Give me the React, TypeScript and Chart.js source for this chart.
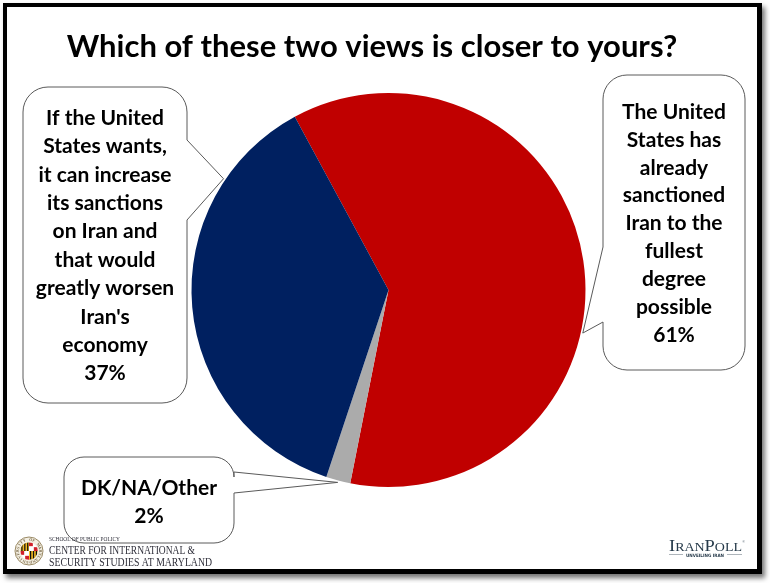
import { useEffect, useRef } from "react";
import { Chart, registerables } from "chart.js";

Chart.register(...registerables);

// ---------- data ----------
const categories = [
  "The United States has already sanctioned Iran to the fullest degree possible",
  "DK/NA/Other",
  "If the United States wants, it can increase its sanctions on Iran and that would greatly worsen Iran's economy",
];
const values = [61, 2, 37];
const sliceColors = ["#C00000", "#ABABAB", "#002060"];
const titleText = "Which of these two views is closer to yours?";
const rightLabelLines = ["The United", "States has", "already", "sanctioned", "Iran to the", "fullest", "degree", "possible"];
const bottomLabelLines = ["DK/NA/Other"];
const leftLabelLines = ["If the United", "States wants,", "it can increase", "its sanctions", "on Iran and", "that would", "greatly worsen", "Iran's", "economy"];
const footerLeftLines = ["SCHOOL OF PUBLIC POLICY", "CENTER FOR INTERNATIONAL &", "SECURITY STUDIES AT MARYLAND"];
const footerRightBrand = ["I", "RAN", "P", "OLL"];
const footerRightTagline = "UNVEILING IRAN";

// ---------- layout ----------
const FONT = "Lato, 'Open Sans', sans-serif";
const bubbles = [
  { idx: 0, lines: rightLabelLines, x: 603, y: 75, w: 142, h: 295, r: 24, side: "left", a: 247, b: 322, angle: 12.5, firstY: 112, lh: 27.9 },
  { idx: 1, lines: bottomLabelLines, x: 64, y: 457, w: 170, h: 86, r: 20, side: "right", a: 472, b: 493, angle: 104.8, firstY: 488, lh: 28 },
  { idx: 2, lines: leftLabelLines, x: 23, y: 87, w: 164, h: 316, r: 25, side: "right", a: 140, b: 220, angle: -146, firstY: 118, lh: 28.4 },
];

function bubblePath(ctx: CanvasRenderingContext2D, bb: any, tx: number, ty: number) {
  const { x, y, w, h, r, side, a, b } = bb;
  ctx.beginPath();
  ctx.moveTo(x + r, y);
  ctx.lineTo(x + w - r, y);
  ctx.arcTo(x + w, y, x + w, y + r, r);
  if (side === "right") {
    ctx.lineTo(x + w, a);
    ctx.lineTo(tx, ty);
    ctx.lineTo(x + w, b);
  }
  ctx.lineTo(x + w, y + h - r);
  ctx.arcTo(x + w, y + h, x + w - r, y + h, r);
  ctx.lineTo(x + r, y + h);
  ctx.arcTo(x, y + h, x, y + h - r, r);
  if (side === "left") {
    ctx.lineTo(x, b);
    ctx.lineTo(tx, ty);
    ctx.lineTo(x, a);
  }
  ctx.lineTo(x, y + r);
  ctx.arcTo(x, y, x + r, y, r);
  ctx.closePath();
}

function fitText(ctx: CanvasRenderingContext2D, text: string, x: number, y: number, width: number, font: string) {
  ctx.font = font;
  const w = ctx.measureText(text).width;
  ctx.save();
  ctx.translate(x, y);
  ctx.scale(width / w, 1);
  ctx.textAlign = "left";
  ctx.fillText(text, 0, 0);
  ctx.restore();
}

const framePlugin = {
  id: "frame",
  beforeDraw(chart: any) {
    const ctx: CanvasRenderingContext2D = chart.ctx;
    ctx.save();
    ctx.shadowColor = "rgba(0,0,0,0.55)";
    ctx.shadowBlur = 5;
    ctx.shadowOffsetX = 3;
    ctx.shadowOffsetY = 4;
    ctx.fillStyle = "#000";
    ctx.fillRect(3, 3, 759, 571);
    ctx.restore();
    ctx.fillStyle = "#fff";
    ctx.fillRect(7, 7, 750, 562);
  },
};

function drawSeal(ctx: CanvasRenderingContext2D, cx: number, cy: number, r: number) {
  ctx.save();
  ctx.beginPath();
  ctx.arc(cx, cy, r, 0, Math.PI * 2);
  ctx.fillStyle = "#f4efe2";
  ctx.fill();
  ctx.strokeStyle = "#9a8a66";
  ctx.lineWidth = 1;
  ctx.stroke();
  // ring text
  ctx.fillStyle = "#7a6a4a";
  ctx.font = "bold 4px 'Liberation Serif', serif";
  ctx.textAlign = "center";
  ctx.textBaseline = "middle";
  const ring = "UNIVERSITY OF MARYLAND";
  const n = ring.length;
  for (let i = 0; i < n; i++) {
    const ang = -Math.PI * 0.95 + (i / (n - 1)) * Math.PI * 1.9 - Math.PI / 2;
    ctx.save();
    ctx.translate(cx + Math.cos(ang) * (r - 2.8), cy + Math.sin(ang) * (r - 2.8));
    ctx.rotate(ang + Math.PI / 2);
    ctx.fillText(ring[i], 0, 0);
    ctx.restore();
  }
  // inner flag
  const ir = r * 0.62;
  ctx.beginPath();
  ctx.arc(cx, cy, ir, 0, Math.PI * 2);
  ctx.clip();
  const quads = [
    [cx - ir, cy - ir, "gold"],
    [cx, cy - ir, "red"],
    [cx - ir, cy, "red"],
    [cx, cy, "gold"],
  ] as const;
  for (const [qx, qy, kind] of quads) {
    if (kind === "gold") {
      ctx.fillStyle = "#F2B922";
      ctx.fillRect(qx, qy, ir, ir);
      ctx.fillStyle = "#111";
      for (let k = 0; k < 3; k++) ctx.fillRect(qx + 1 + k * (ir / 3), qy, ir / 7, ir);
    } else {
      ctx.fillStyle = "#fff";
      ctx.fillRect(qx, qy, ir, ir);
      ctx.fillStyle = "#D0202A";
      ctx.fillRect(qx, qy, ir / 2 - 0.5, ir / 2 - 0.5);
      ctx.fillRect(qx + ir / 2 + 0.5, qy + ir / 2 + 0.5, ir / 2, ir / 2);
    }
  }
  ctx.restore();
}

const overlayPlugin = {
  id: "overlay",
  afterDraw(chart: any) {
    const ctx: CanvasRenderingContext2D = chart.ctx;
    const meta = chart.getDatasetMeta(0);
    const arc: any = meta.data[0];
    const cx = arc.x;
    const cy = arc.y;
    const R = arc.outerRadius;

    // title
    ctx.save();
    ctx.fillStyle = "#000";
    ctx.font = `bold 31px ${FONT}`;
    ctx.textAlign = "center";
    ctx.textBaseline = "alphabetic";
    ctx.fillText(titleText, 372, 57);
    ctx.restore();

    // callout bubbles
    for (const bb of bubbles) {
      const t = (bb.angle * Math.PI) / 180;
      const tx = cx + Math.cos(t) * (R + 2);
      const ty = cy + Math.sin(t) * (R + 2);
      ctx.save();
      bubblePath(ctx, bb, tx, ty);
      ctx.fillStyle = "#fff";
      ctx.fill();
      ctx.strokeStyle = "#5a5a5a";
      ctx.lineWidth = 1;
      ctx.stroke();
      ctx.fillStyle = "#000";
      ctx.font = `bold 21px ${FONT}`;
      ctx.textAlign = "center";
      ctx.textBaseline = "middle";
      const lines = [...bb.lines, `${values[bb.idx]}%`];
      const mx = bb.x + bb.w / 2;
      lines.forEach((ln, i) => ctx.fillText(ln, mx, bb.firstY + i * bb.lh));
      ctx.restore();
    }

    // footer left
    ctx.save();
    drawSeal(ctx, 29, 551, 14);
    ctx.fillStyle = "#2f2f3a";
    ctx.textBaseline = "alphabetic";
    fitText(ctx, footerLeftLines[0], 49, 540.5, 71, "5.5px 'Liberation Serif', serif");
    fitText(ctx, footerLeftLines[1], 49, 554, 146, "13px 'Liberation Serif', serif");
    fitText(ctx, footerLeftLines[2], 49, 565.5, 163, "13px 'Liberation Serif', serif");
    ctx.restore();

    // footer right
    ctx.save();
    ctx.fillStyle = "#263a4a";
    ctx.textBaseline = "alphabetic";
    ctx.textAlign = "left";
    const big = "16.5px 'Liberation Serif', serif";
    const small = "12.5px 'Liberation Serif', serif";
    const fonts = [big, small, big, small];
    let total = 0;
    const widths: number[] = [];
    footerRightBrand.forEach((s, i) => {
      ctx.font = fonts[i];
      const w = ctx.measureText(s).width;
      widths.push(w);
      total += w;
    });
    const sx = 73 / total;
    let px = 669;
    footerRightBrand.forEach((s, i) => {
      ctx.font = fonts[i];
      ctx.save();
      ctx.translate(px, 551);
      ctx.scale(sx, 1);
      ctx.fillText(s, 0, 0);
      ctx.restore();
      px += widths[i] * sx;
    });
    ctx.font = "3px sans-serif";
    ctx.fillText("®", px + 0.5, 543);
    ctx.font = "bold 4.5px 'DejaVu Sans', sans-serif";
    ctx.textAlign = "center";
    ctx.textBaseline = "middle";
    fitText(ctx, footerRightTagline, 686, 556, 38, "bold 4.5px 'DejaVu Sans', sans-serif");
    ctx.strokeStyle = "#8a949c";
    ctx.lineWidth = 0.7;
    ctx.beginPath();
    ctx.moveTo(669, 554.5);
    ctx.lineTo(683, 554.5);
    ctx.moveTo(727, 554.5);
    ctx.lineTo(742, 554.5);
    ctx.stroke();
    ctx.restore();
  },
};

export default function App() {
  const ref = useRef<HTMLCanvasElement>(null);
  useEffect(() => {
    const canvas = ref.current!;
    const chart = new Chart(canvas, {
      type: "pie",
      data: {
        labels: categories,
        datasets: [{ data: values, backgroundColor: sliceColors, borderWidth: 0 }],
      },
      options: {
        responsive: false,
        animation: false,
        devicePixelRatio: 1,
        rotation: -28.4,
        events: [],
        layout: { padding: { left: 191.5, right: 184.5, top: 93, bottom: 96 } },
        plugins: {
          legend: { display: false },
          tooltip: { enabled: false },
          title: { display: false },
        },
      } as any,
      plugins: [framePlugin, overlayPlugin],
    });
    return () => chart.destroy();
  }, []);
  return (
    <div style={{ position: "absolute", left: 0, top: 0, width: 770, height: 583 }}>
      <canvas ref={ref} width={770} height={583} style={{ display: "block", width: 770, height: 583 }} />
    </div>
  );
}
